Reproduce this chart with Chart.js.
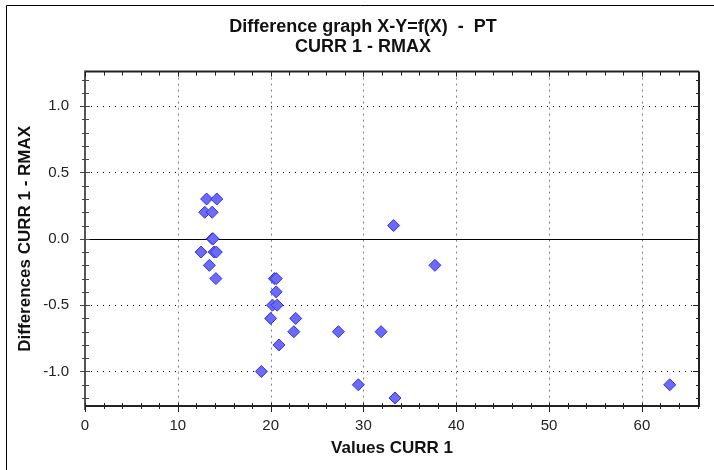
<!DOCTYPE html>
<html>
<head>
<meta charset="utf-8">
<script src="https://cdn.jsdelivr.net/npm/chart.js@4.4.1/dist/chart.umd.min.js"></script>
<style>
  html, body { margin: 0; padding: 0; background: #fff; }
  #wrap { position: relative; width: 714px; height: 470px; }
</style>
</head>
<body>
<div id="wrap"><canvas id="diff-chart"></canvas></div>
<script>
// values (X = CURR 1, Y = CURR 1 - RMAX)
const xValues = [13.1, 14.2, 12.9, 13.7, 13.7, 13.8, 12.5, 13.9, 14.15, 13.4, 14.1,
                 20.4, 20.6, 20.6, 20.2, 20.7, 20.0, 22.7, 22.5, 27.3, 31.9, 20.9,
                 19.0, 29.45, 33.4, 33.25, 37.7, 63.0];
const yValues = [0.3, 0.3, 0.2, 0.2, 0.0, 0.0, -0.1, -0.1, -0.1, -0.2, -0.3,
                 -0.3, -0.3, -0.4, -0.5, -0.5, -0.6, -0.6, -0.7, -0.7, -0.7, -0.8,
                 -1.0, -1.1, -1.2, 0.1, -0.2, -1.1];

const xTickValues = [0, 10, 20, 30, 40, 50, 60];
const yTickValues = [-1.0, -0.5, 0.0, 0.5, 1.0];
const xRange = [0, 66.15];
const yRange = [-1.26, 1.26];

const titleLines = ['Difference graph X-Y=f(X)  -  PT', 'CURR 1 - RMAX'];
const xTitle = 'Values CURR 1';
const yTitle = 'Differences CURR 1 - RMAX';

const FONT = "'Liberation Sans', Arial, sans-serif";

// grid, zero line, frame and the small tick marks
const plotFrame = {
    id: 'plotFrame',
    beforeDatasetsDraw(chart) {
        const { ctx, chartArea: a, scales: { x, y } } = chart;
        ctx.save();
        ctx.lineWidth = 1;
        // vertical dotted grid
        ctx.strokeStyle = '#808080';
        ctx.setLineDash([2, 4]);
        xTickValues.forEach(v => {
            if (v === xRange[0]) return;
            const px = Math.round(x.getPixelForValue(v)) + 0.5;
            ctx.beginPath(); ctx.moveTo(px, a.top); ctx.lineTo(px, a.bottom); ctx.stroke();
        });
        // horizontal dotted grid
        ctx.strokeStyle = '#000';
        ctx.setLineDash([1, 5]);
        yTickValues.forEach(v => {
            if (v === 0) return;
            const py = Math.round(y.getPixelForValue(v)) + 0.5;
            ctx.beginPath(); ctx.moveTo(a.left, py); ctx.lineTo(a.right, py); ctx.stroke();
        });
        // zero line
        ctx.setLineDash([]);
        ctx.strokeStyle = '#000';
        const z = Math.round(y.getPixelForValue(0)) + 0.5;
        ctx.beginPath(); ctx.moveTo(a.left, z); ctx.lineTo(a.right, z); ctx.stroke();
        ctx.restore();
    },
    afterDatasetsDraw(chart) {
        const { ctx, chartArea: a, scales: { x, y } } = chart;
        ctx.save();
        ctx.setLineDash([]);
        // frame
        ctx.lineWidth = 2;
        ctx.strokeStyle = '#222';
        ctx.beginPath(); ctx.moveTo(a.left, a.top); ctx.lineTo(a.right, a.top); ctx.stroke();
        ctx.beginPath(); ctx.moveTo(a.right, a.top); ctx.lineTo(a.right, a.bottom); ctx.stroke();
        ctx.beginPath(); ctx.moveTo(a.left, a.bottom); ctx.lineTo(a.right + 1, a.bottom); ctx.stroke();
        ctx.strokeStyle = '#555';
        ctx.beginPath(); ctx.moveTo(a.left, a.top - 1); ctx.lineTo(a.left, a.bottom + 4); ctx.stroke();

        ctx.lineWidth = 1;
        ctx.strokeStyle = '#222';
        // x ticks every 2, long at every 10
        for (let v = 0; v <= xRange[1] + 0.001; v += 2) {
            const px = Math.round(x.getPixelForValue(v)) + 0.5;
            const major = Math.abs(v % 10) < 0.001;
            ctx.beginPath(); ctx.moveTo(px, a.bottom - 3); ctx.lineTo(px, a.bottom + (major ? 6 : 3)); ctx.stroke();
            ctx.beginPath(); ctx.moveTo(px, a.top); ctx.lineTo(px, a.top + (major ? 5 : 4)); ctx.stroke();
        }
        // y ticks every 0.1, long at every 0.5
        for (let i = -12; i <= 12; i++) {
            const v = i / 10;
            const py = Math.round(y.getPixelForValue(v)) + 0.5;
            const major = i % 5 === 0;
            ctx.strokeStyle = '#444';
            ctx.beginPath(); ctx.moveTo(a.left - (major ? 5 : 3), py); ctx.lineTo(a.left + (major ? 5 : 4), py); ctx.stroke();
            ctx.strokeStyle = '#222';
            ctx.beginPath(); ctx.moveTo(a.right - (major ? 6 : 3), py); ctx.lineTo(a.right, py); ctx.stroke();
        }
        ctx.restore();
    }
};

// thin outer frame of the picture
const outerFrame = {
    id: 'outerFrame',
    afterDraw(chart) {
        const ctx = chart.ctx;
        ctx.save();
        ctx.strokeStyle = '#000';
        ctx.lineWidth = 1;
        ctx.beginPath();
        ctx.moveTo(6.5, chart.height);
        ctx.lineTo(6.5, 5.5);
        ctx.lineTo(chart.width, 5.5);
        ctx.stroke();
        ctx.restore();
    }
};

new Chart(document.getElementById('diff-chart'), {
    type: 'scatter',
    data: {
        datasets: [{
            data: xValues.map((v, i) => ({ x: v, y: yValues[i] })),
            pointStyle: 'rectRot',
            pointRadius: 6,
            pointHoverRadius: 6,
            backgroundColor: '#6b6bf7',
            borderColor: '#3232e6',
            borderWidth: 1
        }]
    },
    options: {
        responsive: true,
        maintainAspectRatio: false,
        animation: false,
        events: [],
        layout: { padding: { left: 27, right: 15, top: 0, bottom: 0 } },
        plugins: {
            legend: { display: false },
            tooltip: { enabled: false },
            title: {
                display: true,
                text: titleLines,
                color: '#111',
                font: { family: FONT, size: 18, weight: 'bold', lineHeight: 1.1 },
                padding: { top: 17, bottom: 15 }
            }
        },
        scales: {
            x: {
                type: 'linear',
                min: xRange[0],
                max: xRange[1],
                afterFit: s => { s.height = 64; },
                afterBuildTicks: s => { s.ticks = xTickValues.map(v => ({ value: v })); },
                grid: { display: false, drawTicks: false },
                border: { display: false },
                ticks: { color: '#222', padding: 11, maxRotation: 0, font: { family: FONT, size: 15 } },
                title: {
                    display: true,
                    text: xTitle,
                    color: '#111',
                    font: { family: FONT, size: 17, weight: 'bold' },
                    padding: { top: 0, bottom: 11 }
                }
            },
            y: {
                type: 'linear',
                min: yRange[0],
                max: yRange[1],
                afterFit: s => { s.width = 58; },
                afterBuildTicks: s => { s.ticks = yTickValues.map(v => ({ value: v })); },
                grid: { display: false, drawTicks: false },
                border: { display: false },
                ticks: {
                    color: '#222',
                    padding: 16,
                    font: { family: FONT, size: 15 },
                    callback: v => Number(v).toFixed(1)
                },
                title: {
                    display: true,
                    text: yTitle,
                    color: '#111',
                    font: { family: FONT, size: 17, weight: 'bold' },
                    padding: { top: -12, bottom: 0 }
                }
            }
        }
    },
    plugins: [plotFrame, outerFrame]
});
</script>
</body>
</html>
